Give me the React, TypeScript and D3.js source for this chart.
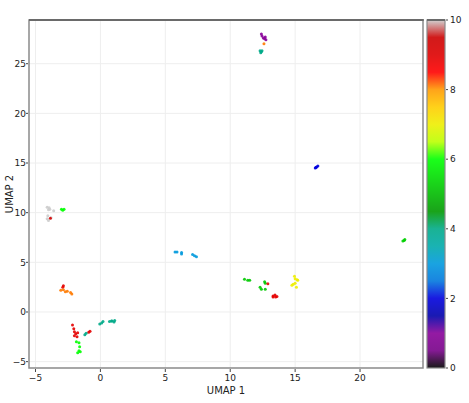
import React from "react";
import * as d3 from "d3";

const W = 469;
const H = 403;

// UMAP coordinates and colour values
const umap1 = [
  -4.1, -3.95, -3.9, -4.0, -3.6, -4.05, -4.1, -3.8, -4.0, -3.85, -3.0, -2.8, -2.9,
  -2.85, -2.9, -3.05, -2.85, -2.7, -2.55, -2.3, -2.2,
  -2.15, -2.05, -2.0, -1.9, -1.75, -2.0, -1.8, -0.8, -0.9, -1.1, -1.2,
  -1.85, -1.65, -1.6, -1.65, -1.75, -1.55,
  -0.05, 0.1, 0.2, 0.7, 0.9, 1.1, 1.05, 0.85,
  5.75, 5.9, 6.25, 6.25, 7.1, 7.25, 7.4,
  11.1, 11.35, 11.5, 12.3, 12.4, 12.65, 12.7, 12.7, 12.9,
  13.3, 13.45, 13.5, 13.3, 13.6,
  14.95, 15.0, 15.15, 14.85, 14.75, 15.0, 15.1, 15.2,
  16.55, 16.65, 16.75, 16.6,
  23.3, 23.45, 23.4,
  12.4, 12.45, 12.55, 12.7, 12.75, 12.65, 12.6, 12.3, 12.4, 12.45, 12.35,
];
const umap2 = [
  10.55, 10.5, 10.35, 10.3, 10.2, 9.7, 9.4, 9.5, 9.2, 9.45, 10.35, 10.35, 10.25,
  2.65, 2.5, 2.2, 2.25, 2.05, 2.1, 1.95, 1.8,
  -1.3, -1.7, -2.0, -2.2, -2.1, -2.4, -2.5, -1.95, -2.05, -2.15, -2.3,
  -3.0, -3.1, -3.5, -3.9, -4.1, -4.0,
  -1.2, -1.1, -0.95, -0.95, -0.9, -0.85, -1.0, -0.9,
  6.05, 6.05, 6.0, 5.85, 5.8, 5.65, 5.55,
  3.3, 3.2, 3.2, 2.5, 2.3, 3.05, 2.9, 2.3, 2.85,
  1.6, 1.7, 1.5, 1.5, 1.55,
  3.6, 3.35, 3.25, 2.8, 2.7, 2.9, 2.5, 3.2,
  14.5, 14.6, 14.7, 14.55,
  7.15, 7.3, 7.2,
  28.0, 27.8, 27.6, 27.7, 27.4, 27.5, 27.0, 26.3, 26.2, 26.3, 26.1,
];
const colorValue = [
  10, 10, 10, 10, 10, 10, 10, 10, 10, 9.2, 6, 6, 6,
  8.9, 8.9, 8.1, 8.1, 8.1, 8.1, 8.1, 8.1,
  8.9, 8.9, 8.9, 8.9, 8.9, 8.9, 8.9, 8.9, 8.9, 4.0, 4.0,
  6, 6, 6, 6, 6, 6,
  4, 4, 4, 4, 4, 4, 4, 4,
  3, 3, 3, 3, 3, 3, 3,
  5.2, 5.2, 5.2, 5.2, 5.2, 5.2, 5.2, 5.2, 8.9,
  8.9, 8.9, 8.9, 8.9, 8.9,
  7, 7, 7, 7, 7, 7, 7, 7,
  2, 2, 2, 2,
  5.3, 5.3, 5.3,
  1, 1, 1, 1, 1, 1, 8.1, 4, 4, 4, 4,
];

const xTicks = [-5, 0, 5, 10, 15, 20];
const yTicks = [-5, 0, 5, 10, 15, 20, 25];
const cbTicks = [0, 2, 4, 6, 8, 10];

// nipy_spectral colormap anchors
const nsR = [0, 0.4667, 0.5333, 0, 0, 0, 0, 0, 0, 0, 0, 0, 0, 0.7333, 0.9333, 1, 1, 1, 0.8667, 0.8, 0.8];
const nsG = [0, 0, 0, 0, 0, 0.4667, 0.6, 0.6667, 0.6667, 0.6, 0.7333, 0.8667, 1, 1, 0.9333, 0.8, 0.6, 0, 0, 0, 0.8];
const nsB = [0, 0.5333, 0.6, 0.6667, 0.8667, 0.8667, 0.8667, 0.6667, 0.5333, 0, 0, 0, 0, 0, 0, 0, 0, 0, 0, 0, 0.8];

function nipySpectral(t: number): string {
  const c = Math.max(0, Math.min(1, t)) * 20;
  const i = Math.min(19, Math.floor(c));
  const f = c - i;
  const lerp = (a: number[]) => Math.round((a[i] + (a[i + 1] - a[i]) * f) * 255);
  return d3.rgb(lerp(nsR), lerp(nsG), lerp(nsB)).formatHex();
}

export default function App() {
  const left = 29, right = 423, top = 20, bottom = 368;
  const x = d3.scaleLinear().domain([-5.5, 24.85]).range([left, right]);
  const y = d3.scaleLinear().domain([-5.64, 29.4]).range([bottom, top]);
  const cbX = 427, cbW = 18;
  const cb = d3.scaleLinear().domain([0, 10]).range([bottom, top]);
  const cnorm = d3.scaleLinear().domain([0, 10]).range([0, 1]);
  const stops = d3.range(0, 21).map((i) => i / 20);
  const font = "DejaVu Sans, sans-serif";

  return (
    <svg width={W} height={H} style={{ position: "absolute", left: 0, top: 0, background: "#fff" }}>
      <defs>
        <linearGradient id="cbgrad" x1="0" y1="1" x2="0" y2="0">
          {stops.map((s) => (
            <stop key={s} offset={s} stopColor={nipySpectral(s)} />
          ))}
        </linearGradient>
        <clipPath id="plotclip">
          <rect x={left} y={top} width={right - left} height={bottom - top} />
        </clipPath>
      </defs>
      {/* grid */}
      {xTicks.map((t) => (
        <line key={"gx" + t} x1={x(t)} x2={x(t)} y1={top} y2={bottom} stroke="#eeeeee" strokeWidth={1} />
      ))}
      {yTicks.map((t) => (
        <line key={"gy" + t} x1={left} x2={right} y1={y(t)} y2={y(t)} stroke="#eeeeee" strokeWidth={1} />
      ))}
      {/* points */}
      <g clipPath="url(#plotclip)">
        {umap1.map((u, i) => (
          <circle
            key={i}
            cx={x(u)}
            cy={y(umap2[i])}
            r={1.5}
            fill={nipySpectral(cnorm(colorValue[i]))}
            opacity={0.9}
          />
        ))}
      </g>
      {/* frame */}
      <rect x={left} y={top} width={right - left} height={bottom - top} fill="none" stroke="#8a8a8a" strokeWidth={1.5} />
      <line x1={left} x2={right + 0.75} y1={top} y2={top} stroke="#6a6a6a" strokeWidth={2} />
      {/* x ticks */}
      {xTicks.map((t) => (
        <g key={"xt" + t}>
          <line x1={x(t)} x2={x(t)} y1={bottom + 1} y2={bottom + 4} stroke="#444" strokeWidth={1} />
          <text x={x(t)} y={bottom + 12.5} fontSize={9} fontFamily={font} fill="#222" textAnchor="middle">
            {t < 0 ? "\u2212" + Math.abs(t) : t}
          </text>
        </g>
      ))}
      {/* y ticks */}
      {yTicks.map((t) => (
        <g key={"yt" + t}>
          <line x1={left - 3} x2={left - 1} y1={y(t)} y2={y(t)} stroke="#444" strokeWidth={1} />
          <text x={left - 3} y={y(t) + 3.2} fontSize={9} fontFamily={font} fill="#222" textAnchor="end">
            {t < 0 ? "\u2212" + Math.abs(t) : t}
          </text>
        </g>
      ))}
      <text x={(left + right) / 2} y={394} fontSize={10} fontFamily={font} fill="#222" textAnchor="middle">
        UMAP 1
      </text>
      <text
        transform={`translate(13, ${(top + bottom) / 2}) rotate(-90)`}
        fontSize={10}
        fontFamily={font}
        fill="#222"
        textAnchor="middle"
      >
        UMAP 2
      </text>
      {/* colorbar */}
      <rect x={cbX} y={top} width={cbW} height={bottom - top} fill="url(#cbgrad)" opacity={0.9} />
      <rect x={cbX} y={top} width={cbW} height={bottom - top} fill="none" stroke="#8a8a8a" strokeWidth={1.2} />
      <line x1={cbX} x2={cbX + cbW} y1={top} y2={top} stroke="#6a6a6a" strokeWidth={2} />
      {cbTicks.map((t) => (
        <g key={"cb" + t}>
          <line x1={cbX + cbW + 1} x2={cbX + cbW + 3} y1={cb(t)} y2={cb(t)} stroke="#444" strokeWidth={1} />
          <text x={cbX + cbW + 5} y={cb(t) + 3.2} fontSize={9} fontFamily={font} fill="#222">
            {t}
          </text>
        </g>
      ))}
    </svg>
  );
}
